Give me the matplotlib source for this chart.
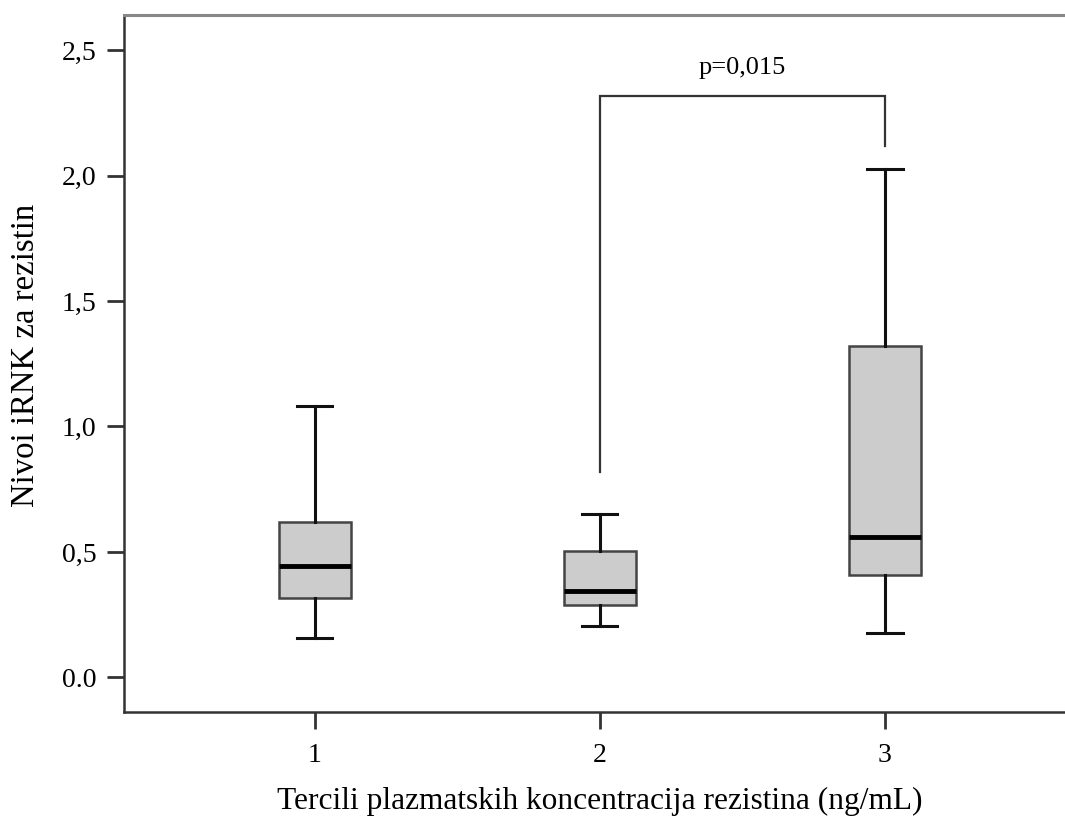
import matplotlib
matplotlib.use("Agg")
import matplotlib.pyplot as plt

plt.rcParams['font.family'] = ['Liberation Serif', 'DejaVu Serif']

# Tertile groups and summary statistics of resistin mRNA level
groups = [1, 2, 3]
whisker_low = [0.159, 0.206, 0.177]
q1 = [0.315, 0.287, 0.407]
median = [0.446, 0.344, 0.558]
q3 = [0.619, 0.503, 1.320]
whisker_high = [1.081, 0.652, 2.027]

y_ticks = [0.0, 0.5, 1.0, 1.5, 2.0, 2.5]
y_tick_labels = ["0.0", "0,5", "1,0", "1,5", "2,0", "2,5"]

# Significance bracket between groups 2 and 3
bracket_groups = (2, 3)
bracket_left_start = 0.819
bracket_top = 2.318
bracket_right_end = 2.119
p_label = "p=0,015"

fig = plt.figure(figsize=(10.65, 8.19), dpi=100)
ax = fig.add_axes([0.1164, 0.1306, 0.8939, 0.8511])

stats = []
for g, lo, a, m, b, hi in zip(groups, whisker_low, q1, median, q3, whisker_high):
    stats.append(dict(med=m, q1=a, q3=b, whislo=lo, whishi=hi, fliers=[], label=str(g)))

ax.bxp(stats, positions=groups, widths=0.253, capwidths=0.123,
       showfliers=False, patch_artist=True,
       boxprops=dict(facecolor='#cccccc', edgecolor='#444444', linewidth=1.8),
       whiskerprops=dict(color='#111111', linewidth=2.2),
       capprops=dict(color='#111111', linewidth=2.2),
       medianprops=dict(color='#000000', linewidth=3.5))

x0, x1 = bracket_groups
ax.plot([x0, x0, x1, x1],
        [bracket_left_start, bracket_top, bracket_top, bracket_right_end],
        color='#333333', linewidth=1.6, solid_joinstyle='miter')
ax.text((x0 + x1) / 2, bracket_top + 0.11, p_label, ha='center', va='center',
        fontsize=19)

ax.set_xlim(0.33, 3.67)
ax.set_ylim(-0.138, 2.640)
ax.set_xticks(groups)
ax.set_xticklabels([str(g) for g in groups])
ax.set_yticks(y_ticks)
ax.set_yticklabels(y_tick_labels)

ax.tick_params(axis='both', direction='out', length=12, width=2.0,
               color='#333333', labelsize=20)
ax.tick_params(axis='y', pad=8)
ax.tick_params(axis='x', pad=10)

for side in ('left', 'bottom'):
    ax.spines[side].set_color('#333333')
    ax.spines[side].set_linewidth(1.8)
ax.spines['top'].set_color('#888888')
ax.spines['top'].set_linewidth(2.2)
ax.spines['right'].set_visible(False)

ax.set_xlabel("Tercili plazmatskih koncentracija rezistina (ng/mL)",
              fontsize=22.6, labelpad=14)
ax.set_ylabel("Nivoi iRNK za rezistin", fontsize=23.6, labelpad=15)
ax.yaxis.label.set_y(0.512)

fig.savefig("out.png", dpi=100)
